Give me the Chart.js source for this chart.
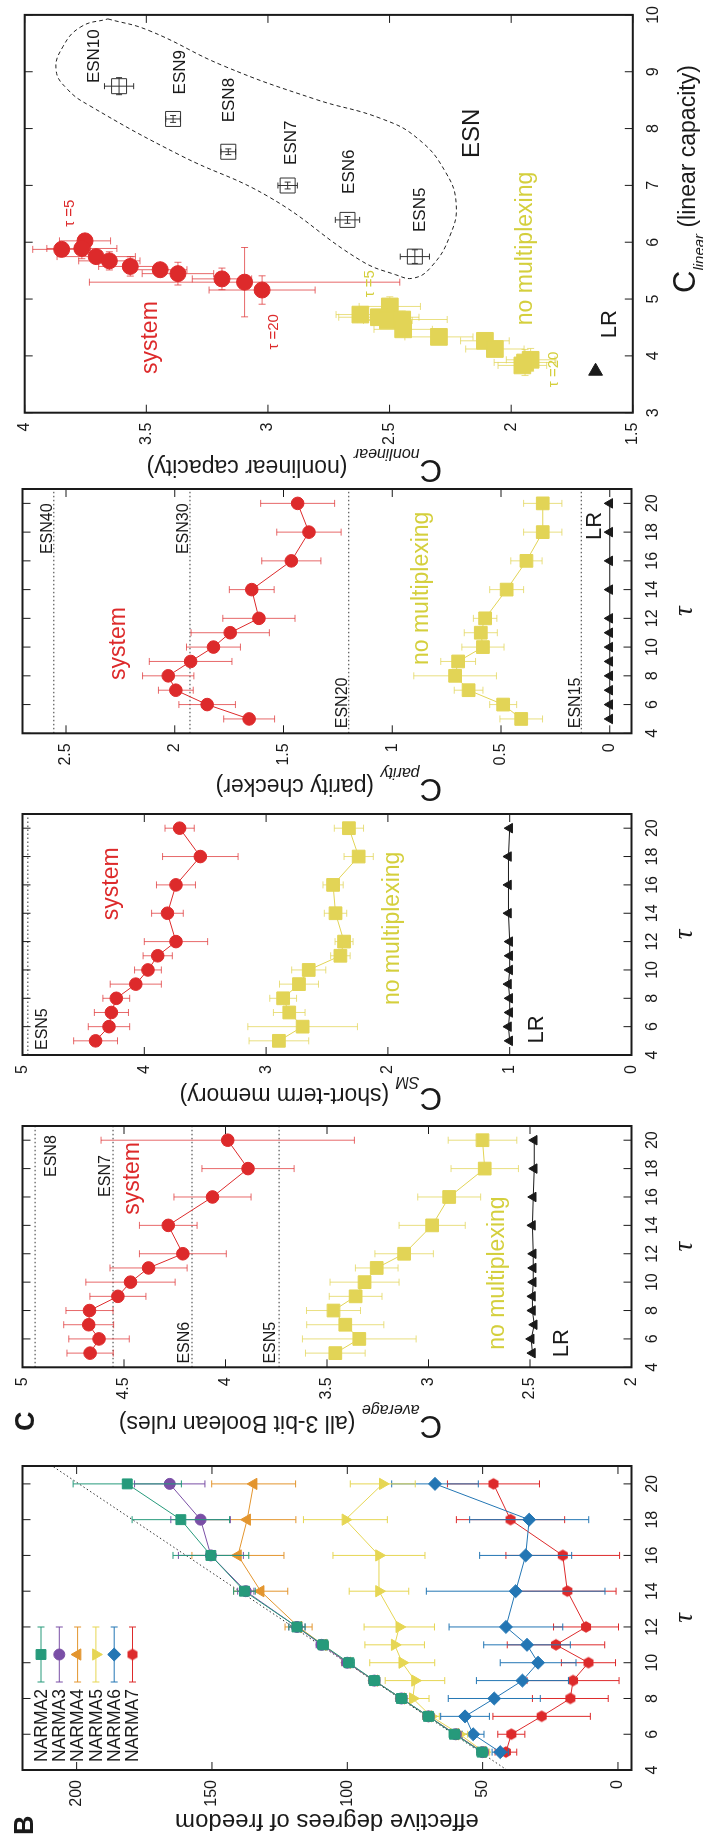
<!DOCTYPE html>
<html>
<head>
<meta charset="utf-8">
<title>Reservoir capacities</title>
<script src="https://cdn.jsdelivr.net/npm/chart.js@4.4.1/dist/chart.umd.min.js"></script>
<style>
  html, body { margin: 0; padding: 0; background: #fff; width: 703px; height: 1843px; overflow: hidden; }
  /* the figure is laid out landscape and turned a quarter turn */
  #page { position: absolute; left: 0; top: 0; width: 1843px; height: 703px;
          transform-origin: 0 0; transform: translate(0, 1843px) rotate(-90deg); }
  #page canvas { position: absolute; top: 0; }
</style>
</head>
<body>
<div id="page">
  <canvas id="panel-b"></canvas>
  <canvas id="panel-avg"></canvas>
  <canvas id="panel-sm"></canvas>
  <canvas id="panel-par"></canvas>
  <canvas id="panel-cap"></canvas>
</div>
<script>
// ---------- data ----------
const tau = [5, 6, 7, 8, 9, 10, 11, 12, 14, 16, 18, 20];
const tauTicks = [4, 6, 8, 10, 12, 14, 16, 18, 20];

// B: effective degrees of freedom
const dofTicks = [0, 50, 100, 150, 200];
const narma2 = [50.2, 60.4, 70, 80, 90, 99.4, 109, 118.6, 138, 150.4, 161.5, 181.3];
const narma2Err = [2, 2, 2, 2, 2, 2, 2, 3, 4, 14, 18, 20];
const narma3 = [50, 60, 70, 80, 90, 100, 109.5, 118.6, 137.5, 150.4, 154.2, 165.6];
const narma3Err = [2, 2, 2, 2, 2, 2, 2, 3, 3, 12, 11, 13];
const narma4 = [50, 60, 70, 80, 90, 100, 109, 118, 132, 140.4, 137, 134.6];
const narma4Err = [2, 2, 2, 2, 2, 2, 2, 5, 10, 17, 18, 15.5];
const narma5 = [49.4, 58.5, 69, 75.8, 75, 79.7, 82.5, 80.8, 88.3, 88.3, 100.7, 86.9];
const narma5Err = [2, 3, 3, 6, 11, 12, 11, 13, 11, 17, 15.5, 12];
const narma6 = [43.5, 53.5, 56.5, 45.7, 35.3, 29.5, 33.6, 41.4, 37.8, 34.1, 32.8, 67.6];
const narma6Err = [3, 4, 9, 17, 17, 14, 16, 21, 33, 17, 22, 16];
const narma7 = [41.4, 39.4, 28.2, 17.6, 16.6, 10.9, 22.9, 11.8, 18.7, 20.4, 39.7, 46];
const narma7Err = [4, 5, 18, 14, 17, 10, 18, 12, 18, 21, 20, 17];
const dofGuideTau = [4, 21];
const dofGuide = [41, 209];

// C average (all 3-bit Boolean rules)
const avgTicks = [2, 2.5, 3, 3.5, 4, 4.5, 5];
const avgSystem = [4.667, 4.623, 4.674, 4.67, 4.53, 4.468, 4.379, 4.21, 4.282, 4.064, 3.889, 3.989];
const avgSystemErr = [0.114, 0.149, 0.123, 0.116, 0.138, 0.22, 0.19, 0.214, 0.142, 0.19, 0.227, 0.624];
const avgNoMux = [3.459, 3.341, 3.41, 3.468, 3.359, 3.315, 3.255, 3.12, 2.982, 2.898, 2.723, 2.734];
const avgNoMuxErr = [0.147, 0.28, 0.19, 0.133, 0.13, 0.17, 0.105, 0.144, 0.163, 0.155, 0.166, 0.169];
const avgLR = [2.488, 2.494, 2.479, 2.488, 2.488, 2.484, 2.484, 2.484, 2.488, 2.484, 2.479, 2.479];
const avgEsnNames = ['ESN8', 'ESN7', 'ESN6', 'ESN5'];
const avgEsn = [4.938, 4.554, 4.165, 3.736];

// C SM (short-term memory)
const smTicks = [0, 1, 2, 3, 4, 5];
const smSystem = [4.40, 4.29, 4.27, 4.23, 4.07, 3.97, 3.89, 3.74, 3.81, 3.74, 3.54, 3.71];
const smSystemErr = [0.18, 0.17, 0.14, 0.11, 0.21, 0.11, 0.12, 0.26, 0.13, 0.16, 0.31, 0.12];
const smNoMux = [2.895, 2.70, 2.81, 2.86, 2.73, 2.65, 2.39, 2.36, 2.43, 2.45, 2.24, 2.32];
const smNoMuxErr = [0.245, 0.45, 0.13, 0.11, 0.16, 0.14, 0.08, 0.074, 0.092, 0.083, 0.12, 0.12];
const smLR = [1.0, 1.01, 1.0, 1.0, 1.01, 1.0, 1.0, 1.0, 1.01, 1.01, 1.01, 1.0];
const smEsnNames = ['ESN5'];
const smEsn = [4.956];

// C parity (parity checker)
const parTicks = [0, 0.5, 1, 1.5, 2, 2.5];
const parSystem = [1.658, 1.851, 1.995, 2.03, 1.927, 1.822, 1.745, 1.613, 1.646, 1.464, 1.383, 1.435];
const parSystemErr = [0.117, 0.13, 0.08, 0.118, 0.19, 0.124, 0.18, 0.166, 0.103, 0.136, 0.148, 0.17];
const parNoMux = [0.407, 0.49, 0.649, 0.711, 0.697, 0.583, 0.593, 0.573, 0.474, 0.383, 0.308, 0.308];
const parNoMuxErr = [0.098, 0.062, 0.066, 0.19, 0.08, 0.097, 0.076, 0.054, 0.078, 0.072, 0.088, 0.088];
const parLR = [0, 0, 0, 0, 0, 0, 0, 0, 0, 0, 0, 0];
const parEsnNames = ['ESN40', 'ESN30', 'ESN20', 'ESN15'];
const parEsn = [2.556, 1.930, 1.200, 0.131];

// C linear vs nonlinear capacity
const linTicks = [3, 4, 5, 6, 7, 8, 9, 10];
const nonlinTicks = [1.5, 2, 2.5, 3, 3.5, 4];
const capSystemLin = [6.024, 5.874, 5.89, 5.747, 5.672, 5.574, 5.516, 5.447, 5.355, 5.297, 5.159];
const capSystemNonlin = [3.752, 3.848, 3.765, 3.706, 3.652, 3.566, 3.443, 3.370, 3.189, 3.096, 3.024];
const capSystemLinErr = [0.08, 0.05, 0.18, 0.10, 0.16, 0.17, 0.10, 0.20, 0.19, 0.61, 0.25];
const capSystemNonlinErr = [0.105, 0.119, 0.144, 0.161, 0.126, 0.13, 0.11, 0.147, 0.122, 0.638, 0.218];
const capNoMuxLin = [4.870, 4.727, 4.680, 4.623, 4.640, 4.467, 4.334, 4.265, 4.121, 3.931, 3.884, 3.832];
const capNoMuxNonlin = [2.499, 2.620, 2.544, 2.507, 2.448, 2.444, 2.297, 2.108, 2.067, 1.920, 1.943, 1.954];
const capNoMuxLinErr = [0.17, 0.10, 0.12, 0.12, 0.15, 0.12, 0.10, 0.10, 0.12, 0.20, 0.23, 0.12];
const capNoMuxNonlinErr = [0.126, 0.10, 0.165, 0.10, 0.185, 0.12, 0.14, 0.10, 0.12, 0.10, 0.127, 0.10];
const esnNames = ['ESN5', 'ESN6', 'ESN7', 'ESN8', 'ESN9', 'ESN10'];
const esnLin = [5.747, 6.393, 6.998, 7.592, 8.169, 8.746];
const esnNonlin = [2.396, 2.673, 2.919, 3.163, 3.390, 3.612];
const esnLinErr = [0.12, 0.06, 0.06, 0.05, 0.06, 0.15];
const esnNonlinErr = [0.06, 0.05, 0.04, 0.03, 0.03, 0.06];
const lrLin = [3.73];
const lrNonlin = [1.653];
const esnHullLin = [9.93, 9.73, 9.095, 8.52, 8.17, 7.82, 7.25, 6.67, 6.09, 5.57, 5.37, 5.43, 5.69, 6.79, 7.535, 8.40, 8.69, 9.03, 9.44, 9.79, 9.93];
const esnHullNonlin = [3.658, 3.492, 3.178, 2.808, 2.531, 2.383, 2.272, 2.226, 2.254, 2.328, 2.40, 2.476, 2.623, 2.993, 3.363, 3.732, 3.824, 3.871, 3.843, 3.769, 3.658];

// ---------- style ----------
const FONT = '"Liberation Sans", Arial, Helvetica, sans-serif';
const INK = '#1a1a1a';
const RED = '#dd2a2b', RED_BAR = 'rgba(221,42,43,0.7)';
const YEL = '#e2d456', YEL_BAR = 'rgba(226,212,86,0.75)', YEL_TEXT = '#d4cf3c';

const pts = (xs, ys) => xs.map((x, i) => ({ x, y: ys[i] }));

function hexagon(r, color) {
  const c = document.createElement('canvas');
  const s = Math.ceil(2 * r + 2);
  c.width = c.height = s;
  const g = c.getContext('2d');
  g.fillStyle = color;
  g.beginPath();
  for (let k = 0; k < 6; k++) {
    const a = k * Math.PI / 3;
    g.lineTo(s / 2 + r * Math.cos(a), s / 2 + r * Math.sin(a));
  }
  g.closePath();
  g.fill();
  return c;
}

function series(label, xs, ys, style) {
  return Object.assign({ label, data: pts(xs, ys), showLine: true, borderWidth: 1,
    pointBorderWidth: 1, fill: false, tension: 0 }, style);
}

function guide(value, xFrom, xTo) {
  return { data: pts([xFrom, xTo], [value, value]), showLine: true, borderColor: '#333',
    borderWidth: 1, borderDash: [1.5, 2.5], pointRadius: 0 };
}

// ---------- plugins ----------
const errorBars = {
  id: 'errorBars',
  beforeDatasetDraw(chart, args) {
    const ds = chart.data.datasets[args.index];
    if (!ds.errY && !ds.errX) return;
    const { ctx, scales: { x, y } } = chart;
    const cap = ds.errCap || 3.5;
    ctx.save();
    ctx.strokeStyle = ds.errColor || ds.borderColor;
    ctx.lineWidth = 1;
    ctx.beginPath();
    ds.data.forEach((p, i) => {
      const px = x.getPixelForValue(p.x), py = y.getPixelForValue(p.y);
      if (ds.errY) {
        const y1 = y.getPixelForValue(p.y - ds.errY[i]), y2 = y.getPixelForValue(p.y + ds.errY[i]);
        ctx.moveTo(px, y1); ctx.lineTo(px, y2);
        ctx.moveTo(px - cap, y1); ctx.lineTo(px + cap, y1);
        ctx.moveTo(px - cap, y2); ctx.lineTo(px + cap, y2);
      }
      if (ds.errX) {
        const x1 = x.getPixelForValue(p.x - ds.errX[i]), x2 = x.getPixelForValue(p.x + ds.errX[i]);
        ctx.moveTo(x1, py); ctx.lineTo(x2, py);
        ctx.moveTo(x1, py - cap); ctx.lineTo(x1, py + cap);
        ctx.moveTo(x2, py - cap); ctx.lineTo(x2, py + cap);
      }
    });
    ctx.stroke();
    ctx.restore();
  }
};

// border with inward ticks on all four sides
const frame = {
  id: 'frame',
  afterDatasetsDraw(chart) {
    const { ctx, chartArea: a, scales: { x, y } } = chart;
    ctx.save();
    ctx.strokeStyle = INK;
    ctx.lineWidth = 1;
    ctx.beginPath();
    x.ticks.forEach(t => {
      const px = x.getPixelForValue(t.value);
      ctx.moveTo(px, a.bottom); ctx.lineTo(px, a.bottom - 8);
      ctx.moveTo(px, a.top); ctx.lineTo(px, a.top + 8);
    });
    y.ticks.forEach(t => {
      const py = y.getPixelForValue(t.value);
      ctx.moveTo(a.left, py); ctx.lineTo(a.left + 8, py);
      ctx.moveTo(a.right, py); ctx.lineTo(a.right - 8, py);
    });
    ctx.stroke();
    ctx.lineWidth = 2;
    ctx.strokeRect(a.left, a.top, a.right - a.left, a.bottom - a.top);
    ctx.restore();
  }
};

// labels placed in data coordinates
const notes = {
  id: 'notes',
  afterDraw(chart, args, opts) {
    const { ctx, scales: { x, y } } = chart;
    (opts.items || []).forEach(n => {
      ctx.save();
      ctx.font = n.font;
      ctx.fillStyle = n.color || INK;
      ctx.textAlign = n.align || 'left';
      ctx.textBaseline = 'alphabetic';
      ctx.fillText(n.text, x.getPixelForValue(n.x), y.getPixelForValue(n.y));
      ctx.restore();
    });
  }
};

// axis titles with subscripts, given in page coordinates
const titles = {
  id: 'titles',
  afterDraw(chart, args, opts) {
    const ctx = chart.ctx;
    (opts.items || []).forEach(t => {
      ctx.save();
      ctx.fillStyle = INK;
      ctx.textAlign = 'left';
      ctx.textBaseline = 'alphabetic';
      let total = 0;
      t.parts.forEach(p => { ctx.font = p.font; total += ctx.measureText(p.text).width; });
      ctx.translate(t.x - opts.originX, t.y);
      if (t.rotate) ctx.rotate(-Math.PI / 2);
      let cx = t.align === 'center' ? -total / 2 : 0;
      t.parts.forEach(p => {
        ctx.font = p.font;
        ctx.fillText(p.text, cx, p.dy || 0);
        cx += ctx.measureText(p.text).width;
      });
      ctx.restore();
    });
  }
};

const keyBox = {
  id: 'keyBox',
  afterDraw(chart, args, opts) {
    if (!opts.show) return;
    const { ctx, chartArea: a } = chart;
    chart.data.datasets.filter(d => d.inKey).forEach((d, i) => {
      const y = a.top + opts.top + i * opts.step;
      const x1 = a.left + opts.lineFrom, x2 = a.left + opts.lineTo, xm = (x1 + x2) / 2;
      ctx.save();
      ctx.fillStyle = INK;
      ctx.font = opts.font;
      ctx.textBaseline = 'middle';
      ctx.fillText(d.label, a.left + opts.textX, y + 1);
      ctx.strokeStyle = d.errColor;
      ctx.lineWidth = 1;
      ctx.beginPath();
      ctx.moveTo(x1, y); ctx.lineTo(x2, y);
      ctx.moveTo(x1, y - 3.5); ctx.lineTo(x1, y + 3.5);
      ctx.moveTo(x2, y - 3.5); ctx.lineTo(x2, y + 3.5);
      ctx.stroke();
      ctx.fillStyle = d.pointBackgroundColor;
      ctx.strokeStyle = d.pointBorderColor;
      Chart.helpers.drawPoint(ctx, { pointStyle: d.pointStyle, rotation: d.pointRotation || 0,
        radius: d.pointRadius, borderWidth: 1 }, xm, y);
      ctx.restore();
    });
  }
};

// ---------- panel builder ----------
function makeChart(id, box, cfg) {
  const canvas = document.getElementById(id);
  const originX = Math.round(box.left) - 80;
  const w = Math.ceil(box.right) + 12 - originX;
  canvas.width = w;
  canvas.height = 703;
  canvas.style.left = originX + 'px';
  const leftPad = box.left - originX;
  const rightPad = w - leftPad - (box.right - box.left);
  const axis = (a, isX) => ({
    type: 'linear', min: a.min, max: a.max,
    grid: { display: false, drawTicks: false },
    border: { display: false },
    ticks: { color: INK, padding: isX ? 11 : 10, autoSkip: false, maxRotation: 0,
      font: { family: FONT, size: 16 }, callback: v => String(v) },
    afterBuildTicks: s => { s.ticks = a.ticks.map(v => ({ value: v })); },
    afterFit: s => { if (isX) s.height = 40; else s.width = leftPad; }
  });
  return new Chart(canvas, {
    type: 'line',
    data: { datasets: cfg.datasets },
    options: {
      responsive: false, animation: false, events: [],
      layout: { padding: { left: 0, right: rightPad, top: box.top, bottom: 703 - box.bottom - 40 } },
      scales: { x: axis(cfg.x, true), y: axis(cfg.y, false) },
      plugins: {
        legend: { display: false }, tooltip: { enabled: false },
        notes: { items: cfg.notes || [] },
        titles: { originX, items: cfg.titles || [] },
        keyBox: cfg.key || { show: false }
      }
    },
    plugins: [errorBars, frame, notes, titles, keyBox]
  });
}

const boxes = {
  b:   { left: 73,     right: 377,    top: 22.5, bottom: 631.5 },
  avg: { left: 475.7,  right: 717,    top: 22.5, bottom: 631.5 },
  sm:  { left: 788,    right: 1029,   top: 22.5, bottom: 631.5 },
  par: { left: 1109.7, right: 1354,   top: 22.5, bottom: 631.5 },
  cap: { left: 1430.3, right: 1835.7, top: 24.7, bottom: 632.8 }
};

const tauTitle = box => ({ x: (box.left + box.right) / 2, y: 692, align: 'center',
  parts: [{ text: 'τ', font: 'italic 27px "Liberation Serif", serif' }] });
const capTitle = (x, sub, rest) => ({ rotate: true, x, y: 442, parts: [
  { text: 'C', font: `31px ${FONT}` },
  { text: sub, font: `italic 16px ${FONT}`, dy: 11 },
  { text: rest, font: `23px ${FONT}` }] });
const f = (size, bold) => `${bold ? 'bold ' : ''}${size}px ${FONT}`;

// common τ-panel datasets
function tauPanel(sys, sysErr, noMux, noMuxErr, lr, esnVals) {
  return [
    series('system', tau, sys, { borderColor: RED, pointStyle: 'circle', pointRadius: 6.3,
      pointBackgroundColor: RED, pointBorderColor: RED, errY: sysErr, errColor: RED_BAR }),
    series('no multiplexing', tau, noMux, { borderColor: YEL, pointStyle: 'rect', pointRadius: 9,
      pointBackgroundColor: YEL, pointBorderColor: YEL, errY: noMuxErr, errColor: YEL_BAR }),
    series('LR', tau, lr, { borderColor: INK, pointStyle: 'triangle', pointRadius: 5.5,
      pointBackgroundColor: INK, pointBorderColor: INK })
  ].concat(esnVals.map(v => guide(v, 4, 21)));
}

// ---------- B ----------
const hex = hexagon(5.8, RED);
makeChart('panel-b', boxes.b, {
  x: { min: 4, max: 21, ticks: tauTicks },
  y: { min: -5, max: 220, ticks: dofTicks },
  datasets: [
    series('NARMA2', tau, narma2, { borderColor: '#269a7b', pointStyle: 'rect', pointRadius: 7,
      pointBackgroundColor: '#269a7b', pointBorderColor: '#269a7b', errY: narma2Err, errColor: '#269a7b', inKey: true }),
    series('NARMA3', tau, narma3, { borderColor: '#7a4fa6', pointStyle: 'circle', pointRadius: 5.5,
      pointBackgroundColor: '#7a4fa6', pointBorderColor: '#7a4fa6', errY: narma3Err, errColor: '#7a4fa6', inKey: true }),
    series('NARMA4', tau, narma4, { borderColor: '#e3952e', pointStyle: 'triangle', pointRadius: 6.5,
      pointBackgroundColor: '#e3952e', pointBorderColor: '#e3952e', errY: narma4Err, errColor: '#e3952e', inKey: true }),
    series('NARMA5', tau, narma5, { borderColor: '#e6d653', pointStyle: 'triangle', pointRotation: 180, pointRadius: 6.5,
      pointBackgroundColor: '#e6d653', pointBorderColor: '#e6d653', errY: narma5Err, errColor: '#e6d653', inKey: true }),
    series('NARMA6', tau, narma6, { borderColor: '#2376b4', pointStyle: 'rectRot', pointRadius: 6.5,
      pointBackgroundColor: '#2376b4', pointBorderColor: '#2376b4', errY: narma6Err, errColor: '#2376b4', inKey: true }),
    series('NARMA7', tau, narma7, { borderColor: RED, pointStyle: hex, pointRadius: 6,
      pointBackgroundColor: RED, pointBorderColor: RED, errY: narma7Err, errColor: RED, inKey: true }),
    { data: pts(dofGuideTau, dofGuide), showLine: true, borderColor: '#333', borderWidth: 1,
      borderDash: [1.5, 2.5], pointRadius: 0 }
  ],
  key: { show: true, top: 18.5, step: 18.3, textX: 8, lineFrom: 88, lineTo: 143, font: f(17.5) },
  titles: [
    { rotate: true, x: 29, y: 327, align: 'center', parts: [{ text: 'effective degrees of freedom', font: f(24) }] },
    tauTitle(boxes.b),
    { x: 8, y: 33, parts: [{ text: 'B', font: f(27, true) }] }
  ]
});

// ---------- C average ----------
makeChart('panel-avg', boxes.avg, {
  x: { min: 4, max: 21, ticks: tauTicks },
  y: { min: 2, max: 5, ticks: avgTicks },
  datasets: tauPanel(avgSystem, avgSystemErr, avgNoMux, avgNoMuxErr, avgLR, avgEsn),
  notes: [
    { text: 'system', x: 14.74, y: 4.428, color: RED, font: f(23) },
    { text: 'no multiplexing', x: 5.23, y: 2.628, color: YEL_TEXT, font: f(23) },
    { text: 'LR', x: 4.71, y: 2.313, font: f(22) },
    { text: avgEsnNames[0], x: 20.35, y: 4.835, align: 'right', font: f(16) },
    { text: avgEsnNames[1], x: 18.95, y: 4.569, align: 'right', font: f(16) },
    { text: avgEsnNames[2], x: 4.26, y: 4.180, font: f(16) },
    { text: avgEsnNames[3], x: 4.26, y: 3.755, font: f(16) }
  ],
  titles: [
    capTitle(426.5, 'average', ' (all 3-bit Boolean rules)'),
    tauTitle(boxes.avg),
    { x: 412, y: 34, parts: [{ text: 'C', font: f(27, true) }] }
  ]
});

// ---------- C short-term memory ----------
makeChart('panel-sm', boxes.sm, {
  x: { min: 4, max: 21, ticks: tauTicks },
  y: { min: 0, max: 5, ticks: smTicks },
  datasets: tauPanel(smSystem, smSystemErr, smNoMux, smNoMuxErr, smLR, smEsn),
  notes: [
    { text: 'system', x: 13.51, y: 4.213, color: RED, font: f(23) },
    { text: 'no multiplexing', x: 7.52, y: 1.909, color: YEL_TEXT, font: f(23) },
    { text: 'LR', x: 4.82, y: 0.727, font: f(22) },
    { text: smEsnNames[0], x: 4.35, y: 4.798, font: f(16) }
  ],
  titles: [capTitle(755, 'SM', ' (short-term memory)'), tauTitle(boxes.sm)]
});

// ---------- C parity checker ----------
makeChart('panel-par', boxes.par, {
  x: { min: 4, max: 21, ticks: tauTicks },
  y: { min: -0.1, max: 2.7, ticks: parTicks },
  datasets: tauPanel(parSystem, parSystemErr, parNoMux, parNoMuxErr, parLR, parEsn),
  notes: [
    { text: 'system', x: 7.71, y: 2.229, color: RED, font: f(23) },
    { text: 'no multiplexing', x: 8.75, y: 0.836, color: YEL_TEXT, font: f(23) },
    { text: 'LR', x: 17.45, y: 0.038, font: f(22) },
    { text: parEsnNames[0], x: 20.0, y: 2.564, align: 'right', font: f(16) },
    { text: parEsnNames[1], x: 20.0, y: 1.937, align: 'right', font: f(16) },
    { text: parEsnNames[2], x: 4.35, y: 1.210, font: f(16) },
    { text: parEsnNames[3], x: 4.35, y: 0.137, font: f(16) }
  ],
  titles: [capTitle(1063.5, 'parity', ' (parity checker)'), tauTitle(boxes.par)]
});

// ---------- C linear vs nonlinear capacity ----------
const capNotes = [
  { text: 'system', x: 3.68, y: 3.457, color: RED, font: f(23) },
  { text: 'no multiplexing', x: 4.54, y: 1.914, color: YEL_TEXT, font: f(23) },
  { text: 'LR', x: 4.31, y: 1.571, font: f(22) },
  { text: 'ESN', x: 7.48, y: 2.134, font: f(24) },
  { text: 'τ =5', x: 6.27, y: 3.797, color: RED, font: f(15) },
  { text: 'τ =20', x: 4.11, y: 2.957, color: RED, font: f(15) },
  { text: 'τ =5', x: 5.03, y: 2.566, color: YEL_TEXT, font: f(15) },
  { text: 'τ =20', x: 3.45, y: 1.809, color: YEL_TEXT, font: f(15) }
];
const esnLabelAt = [[6.18, 2.356], [6.85, 2.646], [7.36, 2.886], [8.11, 3.14], [8.60, 3.343], [8.80, 3.695]];
esnNames.forEach((n, i) => capNotes.push({ text: n, x: esnLabelAt[i][0], y: esnLabelAt[i][1], font: f(17) }));

const capSystem = series('system', capSystemLin, capSystemNonlin, { showLine: false, pointStyle: 'circle',
  pointRadius: 8, pointBackgroundColor: RED, pointBorderColor: RED, borderColor: RED,
  errX: capSystemLinErr, errY: capSystemNonlinErr, errColor: RED_BAR });
const capNoMux = series('no multiplexing', capNoMuxLin, capNoMuxNonlin, { showLine: false, pointStyle: 'rect',
  pointRadius: 11.8, pointBackgroundColor: YEL, pointBorderColor: YEL, borderColor: YEL,
  errX: capNoMuxLinErr, errY: capNoMuxNonlinErr, errColor: YEL_BAR });
const capEsn = series('ESN', esnLin, esnNonlin, { showLine: false, pointStyle: 'rect', pointRadius: 10.6,
  pointBackgroundColor: 'rgba(0,0,0,0)', pointBorderColor: '#333', borderColor: '#333',
  errX: esnLinErr, errY: esnNonlinErr, errColor: '#333', errCap: 3 });
const capLR = series('LR', lrLin, lrNonlin, { showLine: false, pointStyle: 'triangle', pointRotation: 90,
  pointRadius: 8, pointBackgroundColor: INK, pointBorderColor: INK, borderColor: INK });
const capHull = { data: pts(esnHullLin, esnHullNonlin), showLine: true, borderColor: '#222', borderWidth: 1,
  borderDash: [4, 3], pointRadius: 0, tension: 0.45 };

makeChart('panel-cap', boxes.cap, {
  x: { min: 3, max: 10, ticks: linTicks },
  y: { min: 1.5, max: 4, ticks: nonlinTicks },
  datasets: [capEsn, capSystem, capNoMux, capLR, capHull],
  notes: capNotes,
  titles: [
    capTitle(1382.5, 'nonlinear', ' (nonlinear capacity)'),
    { x: 1550, y: 695, parts: [
      { text: 'C', font: `31px ${FONT}` },
      { text: 'linear', font: `italic 15px ${FONT}`, dy: 9 },
      { text: ' (linear capacity)', font: `23px ${FONT}` }] }
  ]
});
</script>
</body>
</html>
